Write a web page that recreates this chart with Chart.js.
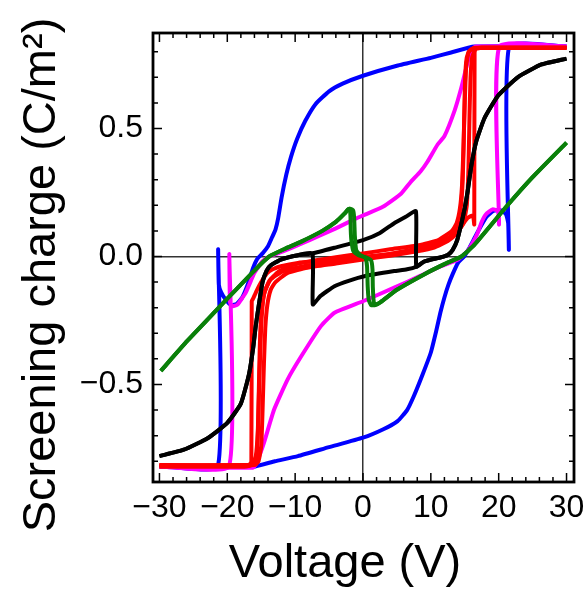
<!DOCTYPE html>
<html>
<head>
<meta charset="utf-8">
<script src="https://cdn.jsdelivr.net/npm/chart.js@4.4.0/dist/chart.umd.min.js"></script>
<style>
  html, body { margin: 0; padding: 0; background: #fff; }
</style>
</head>
<body>
<canvas id="loops" width="586" height="597"></canvas>
<script>
// tick labels
const xMajor = [-30, -20, -10, 0, 10, 20, 30];
const yMajor = [-0.5, 0, 0.5];

// series, [voltage (V), screening charge (C/m^2)]
const blueDown = [[30,0.82],[16.4,0.82],[13,0.797],[10,0.776],[5,0.745],[0,0.706],[-3,0.675],[-5,0.645],[-7,0.595],[-8.5,0.53],[-9.7,0.46],[-10.6,0.39],[-11.3,0.32],[-12.0,0.23],[-12.5,0.15],[-12.9,0.105],[-13.4,0.075],[-14.0,0.04],[-14.8,0.012],[-15.6,-0.01],[-16.2,-0.045],[-17.0,-0.11],[-17.8,-0.16],[-18.6,-0.185],[-19.4,-0.19],[-20.2,-0.17],[-20.9,-0.14],[-21.25,-0.11],[-21.35,0.027],[-21.4,-0.82],[-30,-0.82]];
const blueUp = [[-30,-0.82],[-16.3,-0.822],[-13,-0.8],[-9.6,-0.78],[-5,-0.745],[0,-0.708],[3,-0.675],[5.1,-0.643],[6.5,-0.6],[7.5,-0.545],[8.8,-0.46],[10,-0.375],[10.8,-0.29],[11.4,-0.22],[12.0,-0.16],[12.6,-0.11],[13.2,-0.07],[14.0,-0.025],[14.9,0.0],[15.6,0.03],[16.4,0.07],[17.2,0.11],[18.2,0.155],[19.2,0.178],[20.4,0.18],[21.1,0.164],[21.4,0.13],[21.5,0.027],[21.55,0.82],[30,0.82]];

const magentaDown = [[30,0.82],[16.6,0.82],[15.9,0.80],[15.4,0.757],[14.5,0.66],[13.5,0.57],[12,0.47],[11,0.4375],[9.5,0.37],[8.5,0.333],[7,0.29],[5.6,0.245],[3,0.195],[0,0.16],[-1.3,0.145],[-4,0.11],[-6.5,0.08],[-9.1,0.05],[-11.8,0.02],[-13.8,0.0],[-14.8,-0.018],[-16.0,-0.064],[-17.3,-0.142],[-18.5,-0.188],[-19.2,-0.194],[-19.6,-0.18],[-19.7,0.008],[-19.75,-0.82],[-30,-0.82]];
const magentaUp = [[-30,-0.82],[-16.2,-0.825],[-15.6,-0.8],[-14.6,-0.728],[-13.1,-0.598],[-11.1,-0.48],[-9.1,-0.39],[-6.2,-0.272],[-4.2,-0.22],[0,-0.175],[4.6,-0.122],[8.5,-0.075],[11.5,-0.038],[14,-0.012],[15.4,0.021],[16.2,0.055],[16.9,0.092],[17.5,0.135],[18.1,0.164],[19.1,0.184],[19.9,0.177],[20.05,0.125],[20.1,0.82],[30,0.82]];

const redADown = [[30,0.815],[17.5,0.815],[16,0.81],[15.5,0.795],[15.2,0.76],[15.0,0.65],[14.85,0.45],[14.7,0.3],[14.45,0.2],[14.0,0.13],[13.3,0.09],[12,0.06],[10,0.04],[7,0.022],[4,0.01],[0,-0.002],[-4,-0.012],[-6.7,-0.018],[-9.6,-0.025],[-12.1,-0.038],[-13.3,-0.05],[-14.1,-0.064],[-15,-0.1],[-15.7,-0.135],[-16.2,-0.165],[-16.4,-0.175],[-16.45,-0.80],[-16.8,-0.818],[-18,-0.82],[-30,-0.82]];
const redAUp = [[-30,-0.82],[-17.5,-0.82],[-16.4,-0.815],[-15.9,-0.8],[-15.6,-0.76],[-15.45,-0.65],[-15.3,-0.45],[-15.15,-0.3],[-14.9,-0.2],[-14.4,-0.13],[-13.6,-0.09],[-12,-0.06],[-10,-0.045],[-7,-0.03],[-4,-0.018],[0,-0.005],[4,0.01],[8.5,0.034],[11,0.055],[13.5,0.086],[15.4,0.15],[16.2,0.16],[16.4,0.125],[16.45,0.805],[16.8,0.815],[18,0.815],[30,0.815]];
const redBUp = [[-30,-0.815],[-16.0,-0.815],[-15.4,-0.80],[-15.0,-0.74],[-14.8,-0.6],[-14.6,-0.42],[-14.4,-0.28],[-14.1,-0.19],[-13.6,-0.13],[-12.9,-0.1],[-11.1,-0.064],[-8.2,-0.044],[-4,-0.028],[0,-0.012],[4,0.003],[8,0.02],[10.5,0.035],[12.5,0.06],[13.8,0.09],[14.8,0.13],[15.3,0.2],[15.55,0.35],[15.7,0.55],[15.85,0.7],[16.1,0.78],[16.6,0.81],[17.5,0.815],[30,0.815]];
const redBDown = [[30,0.815],[16.4,0.815],[15.6,0.80],[15.2,0.74],[15.0,0.6],[14.8,0.42],[14.6,0.28],[14.3,0.19],[13.8,0.13],[13.1,0.1],[11.1,0.064],[8.2,0.044],[4,0.028],[0,0.012],[-4,-0.003],[-8,-0.02],[-10.5,-0.035],[-12.5,-0.06],[-13.8,-0.095],[-14.6,-0.15],[-15.0,-0.27],[-15.3,-0.5],[-15.5,-0.68],[-15.8,-0.78],[-16.3,-0.81],[-17.2,-0.815],[-30,-0.815]];

const blackUp = [[-30,-0.78],[-26.4,-0.755],[-22.9,-0.71],[-20,-0.65],[-18,-0.575],[-16.8,-0.46],[-16.2,-0.36],[-15.8,-0.27],[-15.3,-0.18],[-14.8,-0.1],[-14.2,-0.055],[-13.6,-0.035],[-12.1,-0.012],[-9.6,0.005],[-7.4,0.012],[-4.2,0.034],[0.2,0.066],[2.5,0.092],[4.6,0.13],[6.3,0.155],[7.8,0.177],[7.85,-0.04],[9,-0.02],[11.5,-0.003],[12.5,0.006],[13.2,0.025],[13.9,0.065],[14.6,0.14],[15.0,0.19],[15.4,0.25],[16.0,0.36],[16.7,0.45],[17.9,0.54],[19.9,0.628],[22.8,0.70],[26.3,0.75],[30,0.773]];
const blackDown = [[30,0.773],[26.3,0.75],[22.8,0.70],[19.9,0.628],[17.9,0.54],[16.7,0.45],[16.0,0.36],[15.4,0.25],[15.0,0.19],[14.6,0.14],[13.9,0.065],[13.2,0.025],[12.5,0.006],[11.5,-0.003],[9,-0.02],[7.85,-0.04],[6.5,-0.05],[4.6,-0.057],[0.2,-0.077],[-2,-0.094],[-4.2,-0.116],[-6.3,-0.155],[-7.4,-0.1875],[-7.45,0.012],[-9.6,0.005],[-12.1,-0.012],[-13.6,-0.035],[-14.2,-0.055],[-14.8,-0.1],[-15.3,-0.18],[-15.8,-0.27],[-16.2,-0.36],[-16.8,-0.46],[-18,-0.575],[-20,-0.65],[-22.9,-0.71],[-26.4,-0.755],[-30,-0.78]];

const greenUp = [[-29.8,-0.447],[-25.9,-0.33],[-20,-0.165],[-16,-0.055],[-13.8,0.0],[-11.5,0.03],[-9.1,0.058],[-6,0.1],[-4,0.135],[-2.7,0.168],[-2.2,0.184],[-1.95,0.186],[-1.85,0.16],[-1.8,0.1],[-1.7,0.06],[-1.4,0.02],[-0.6,0.004],[0,0],[0.4,-0.008],[0.6,-0.04],[0.7,-0.12],[0.85,-0.17],[1.2,-0.19],[1.8,-0.19],[2.6,-0.178],[5,-0.13],[9,-0.07],[12,-0.03],[14.5,0.0],[16.4,0.045],[21.3,0.2],[25,0.31],[30,0.445]];
const greenDown = [[30,0.445],[25,0.31],[21.3,0.2],[16.4,0.045],[14.5,0.0],[12,-0.03],[9,-0.07],[5,-0.13],[2.6,-0.178],[1.9,-0.188],[1.6,-0.18],[1.45,-0.12],[1.4,-0.05],[1.2,-0.015],[0.5,-0.004],[0,0],[-0.5,0.008],[-1.0,0.025],[-1.2,0.08],[-1.3,0.15],[-1.45,0.18],[-1.8,0.186],[-2.2,0.184],[-2.7,0.168],[-4,0.135],[-6,0.1],[-9.1,0.058],[-11.5,0.03],[-13.8,0.0],[-16,-0.055],[-20,-0.165],[-25.9,-0.33],[-29.8,-0.447]];

const FONT = '"Liberation Sans", Arial, sans-serif';

function branch(data, color, width, order) {
  return {
    data: data.map(p => ({ x: p[0], y: p[1] })),
    borderColor: color,
    borderWidth: width,
    showLine: true,
    pointRadius: 0,
    tension: 0.15,
    fill: false,
    order: order
  };
}

function minus(s) { return s.replace('-', '\u2212'); }

// inward ticks on all four sides, heavy frame, axis titles
const framePlugin = {
  id: 'frame',
  afterDraw(chart) {
    const { ctx, chartArea: a, scales: { x, y } } = chart;
    ctx.save();
    ctx.strokeStyle = '#000';
    ctx.lineWidth = 1.5;
    ctx.beginPath();
    for (let v = -30; v <= 30; v += 2) {
      const px = x.getPixelForValue(v);
      const len = v % 10 === 0 ? 9 : 5;
      ctx.moveTo(px, a.bottom); ctx.lineTo(px, a.bottom - len);
      ctx.moveTo(px, a.top); ctx.lineTo(px, a.top + len);
    }
    for (let i = -8; i <= 8; i++) {
      const py = y.getPixelForValue(i / 10);
      const len = i % 5 === 0 ? 9 : 5;
      ctx.moveTo(a.left, py); ctx.lineTo(a.left + len, py);
      ctx.moveTo(a.right, py); ctx.lineTo(a.right - len, py);
    }
    ctx.stroke();
    ctx.lineWidth = 2.8;
    ctx.strokeRect(a.left, a.top, a.right - a.left, a.bottom - a.top);

    ctx.fillStyle = '#000';
    ctx.font = '47px ' + FONT;
    ctx.textAlign = 'center';
    ctx.textBaseline = 'alphabetic';
    ctx.fillText('Voltage (V)', 345, 577);
    ctx.translate(55, 275);
    ctx.rotate(-Math.PI / 2);
    ctx.fillText('Screening charge (C/m\u00b2)', 0, 0);
    ctx.restore();
  }
};

const zeroLine = c => (c.tick && Math.abs(c.tick.value) < 1e-9 ? '#333' : 'rgba(0,0,0,0)');

new Chart(document.getElementById('loops'), {
  type: 'scatter',
  data: {
    datasets: [
      branch(blueDown, '#0000ff', 4, 5),
      branch(blueUp, '#0000ff', 4, 5),
      branch(magentaDown, '#ff00ff', 4, 4),
      branch(magentaUp, '#ff00ff', 4, 4),
      branch(redADown, '#ff0000', 4, 3),
      branch(redAUp, '#ff0000', 4, 3),
      branch(redBDown, '#ff0000', 4, 3),
      branch(redBUp, '#ff0000', 4, 3),
      branch(blackDown, '#000000', 4, 2),
      branch(blackUp, '#000000', 4, 2),
      branch(greenDown, '#0a800a', 4, 1),
      branch(greenUp, '#0a800a', 4, 1)
    ]
  },
  options: {
    responsive: false,
    animation: false,
    layout: { padding: { left: 0, right: 12, top: 33, bottom: 0 } },
    plugins: { legend: { display: false }, tooltip: { enabled: false } },
    scales: {
      x: {
        type: 'linear',
        min: -30.95,
        max: 31.1,
        border: { display: false },
        grid: { drawTicks: false, lineWidth: 1.5, color: zeroLine },
        ticks: {
          stepSize: 2,
          includeBounds: false,
          autoSkip: false,
          maxRotation: 0,
          padding: 7,
          color: '#000',
          font: { family: FONT, size: 32 },
          callback: v => (xMajor.some(m => Math.abs(m - v) < 1e-6) ? minus(String(Math.round(v))) : '')
        },
        afterFit: s => { s.height = 115; s.paddingLeft = 0; s.paddingRight = 0; }
      },
      y: {
        type: 'linear',
        min: -0.881,
        max: 0.873,
        border: { display: false },
        grid: { drawTicks: false, lineWidth: 1.5, color: zeroLine },
        ticks: {
          stepSize: 0.1,
          includeBounds: false,
          autoSkip: false,
          padding: 10,
          color: '#000',
          font: { family: FONT, size: 32 },
          callback: v => (yMajor.some(m => Math.abs(m - v) < 1e-6) ? minus(v.toFixed(1)) : '')
        },
        afterFit: s => { s.width = 153; s.paddingTop = 0; s.paddingBottom = 0; }
      }
    }
  },
  plugins: [framePlugin]
});
</script>
</body>
</html>
